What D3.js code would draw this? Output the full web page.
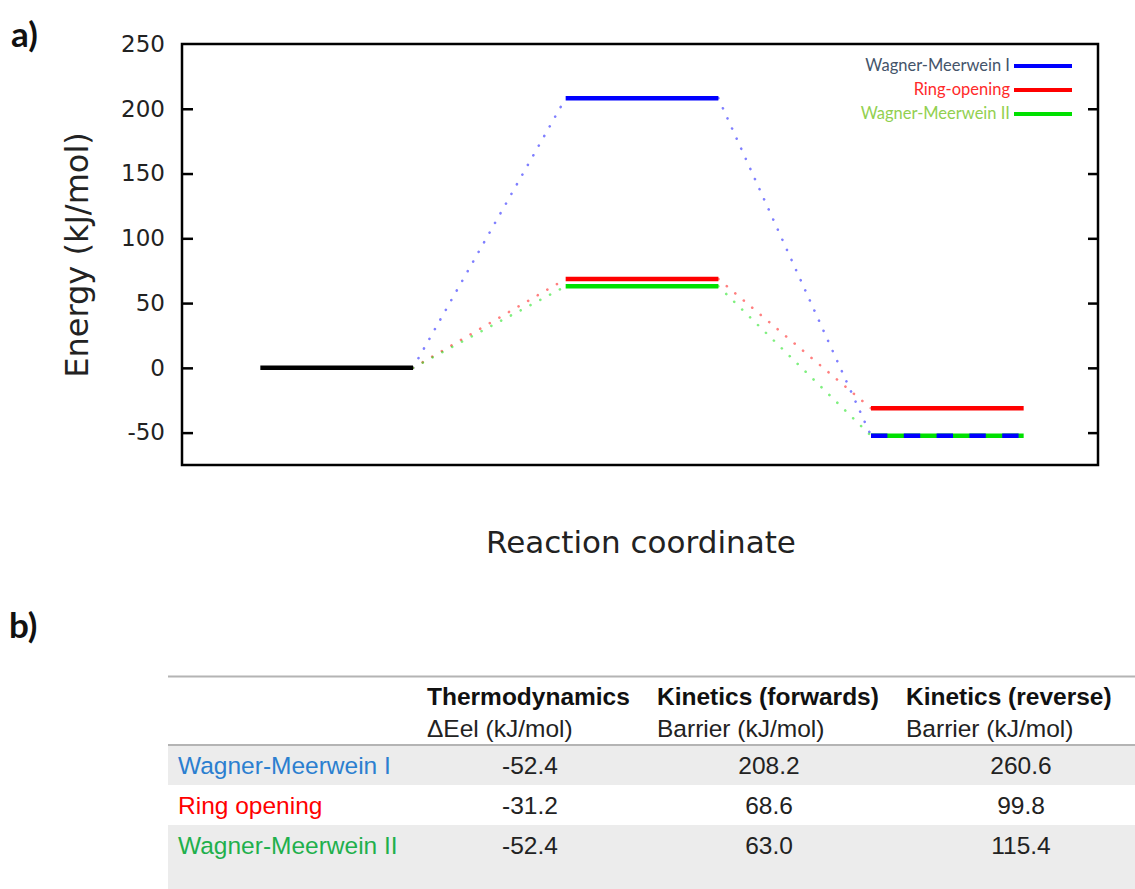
<!DOCTYPE html>
<html>
<head>
<meta charset="utf-8">
<script src="https://cdn.jsdelivr.net/npm/d3@7"></script>
<style>
  body { margin: 0; background: #fff; }
  svg { display: block; }
</style>
</head>
<body>
<svg id="chart" width="1135" height="889"></svg>
<script>
// energy profile data (kJ/mol)
let pathways = ["Wagner-Meerwein I", "Ring-opening", "Wagner-Meerwein II"];
let pathColors = ["#0000ff", "#ff0000", "#00e000"];
let legendColors = ["#44546a", "#ff2a2a", "#92d050"];
let reactantEnergy = 0;
let tsEnergy = [208.2, 68.6, 63.0];
let productEnergy = [-52.4, -31.2, -52.4];
let yTicks = [-50, 0, 50, 100, 150, 200, 250];

// table data
let headers = ["Thermodynamics", "Kinetics (forwards)", "Kinetics (reverse)"];
let subHeaders = ["ΔEel (kJ/mol)", "Barrier (kJ/mol)", "Barrier (kJ/mol)"];
let rowNames = ["Wagner-Meerwein I", "Ring opening", "Wagner-Meerwein II"];
let rowColors = ["#2b7fd0", "#ff0000", "#1fb04c"];
let thermo = ["-52.4", "-31.2", "-52.4"];
let kinForward = ["208.2", "68.6", "63.0"];
let kinReverse = ["260.6", "99.8", "115.4"];

let svg = d3.select("#chart");

let plotL = 182, plotR = 1098, plotT = 44, plotB = 465;

let x = d3.scaleLinear().domain([0, 6]).range([184, 1100]);
let y = d3.scaleLinear().domain([-75, 250]).range([plotB, plotT]);

// stage extents on reaction coordinate
let reactantX = [0.5, 1.5], tsX = [2.5, 3.5], prodX = [4.5, 5.5];

// panel labels
svg.append("text").attr("x", 11).attr("y", 47).text("a)")
  .style("font-family", "Lato").style("font-weight", "bold").style("font-size", "35px").attr("fill", "#111");
svg.append("text").attr("x", 9).attr("y", 638).text("b)")
  .style("font-family", "Lato").style("font-weight", "bold").style("font-size", "35px").attr("fill", "#111");

// dotted connectors
let line = d3.line().x(d => x(d[0])).y(d => y(d[1]));
let connectors = svg.append("g");
pathways.forEach((p, i) => {
  connectors.append("path")
    .attr("d", line([[reactantX[1], reactantEnergy], [tsX[0], tsEnergy[i]]]))
    .attr("fill", "none").attr("stroke", pathColors[i]).attr("stroke-opacity", 0.5)
    .attr("stroke-width", 2.6).attr("stroke-linecap", "round").attr("stroke-dasharray", "0.1 11");
  connectors.append("path")
    .attr("d", line([[tsX[1], tsEnergy[i]], [prodX[0], productEnergy[i]]]))
    .attr("fill", "none").attr("stroke", pathColors[i]).attr("stroke-opacity", 0.5)
    .attr("stroke-width", 2.6).attr("stroke-linecap", "round").attr("stroke-dasharray", "0.1 11");
});

// energy levels
let levels = svg.append("g");
let drawLevel = (xs, e, color, dash) => {
  let l = levels.append("line")
    .attr("x1", x(xs[0])).attr("x2", x(xs[1]))
    .attr("y1", y(e)).attr("y2", y(e))
    .attr("stroke", color).attr("stroke-width", 4.5);
  if (dash) l.attr("stroke-dasharray", dash);
};
pathways.forEach((p, i) => drawLevel(tsX, tsEnergy[i], pathColors[i]));
drawLevel(prodX, productEnergy[1], pathColors[1]);
drawLevel(prodX, productEnergy[2], pathColors[2]);
drawLevel(prodX, productEnergy[0], pathColors[0], "16.4 16.4");
drawLevel(reactantX, reactantEnergy, "#000");

// frame
svg.append("rect").attr("x", plotL).attr("y", plotT)
  .attr("width", plotR - plotL).attr("height", plotB - plotT)
  .attr("fill", "none").attr("stroke", "#000").attr("stroke-width", 2.5);

// y axis (ticks inward), mirrored on the right
let yAxis = svg.append("g").attr("transform", `translate(${plotL},0)`)
  .call(d3.axisLeft(y).tickValues(yTicks).tickSize(-11).tickPadding(17).tickFormat(d => String(d)));
yAxis.select(".domain").remove();
yAxis.selectAll(".tick line").attr("stroke", "#000").attr("stroke-width", 2.5);
yAxis.selectAll(".tick text").style("font-family", "DejaVu Sans").style("font-size", "23px").attr("fill", "#222");
yAxis.selectAll(".tick").filter(d => d === 250).select("line").remove();

let yAxisR = svg.append("g").attr("transform", `translate(${plotR},0)`)
  .call(d3.axisRight(y).tickValues(yTicks).tickSize(-10).tickFormat(""));
yAxisR.select(".domain").remove();
yAxisR.selectAll(".tick line").attr("stroke", "#000").attr("stroke-width", 2.5);
yAxisR.selectAll(".tick").filter(d => d === 250).select("line").remove();

// axis titles
svg.append("text").attr("transform", "translate(88,255) rotate(-90)")
  .attr("text-anchor", "middle").text("Energy (kJ/mol)")
  .style("font-family", "DejaVu Sans").style("font-size", "32px").attr("fill", "#222");
svg.append("text").attr("x", 641).attr("y", 553)
  .attr("text-anchor", "middle").text("Reaction coordinate")
  .style("font-family", "DejaVu Sans").style("font-size", "31px").attr("fill", "#222");

// legend
let legend = svg.append("g");
pathways.forEach((p, i) => {
  let ly = 66 + i * 24;
  legend.append("text").attr("x", 1010).attr("y", ly + 5).attr("text-anchor", "end").text(p)
    .style("font-family", "Lato").style("font-size", "16.5px").attr("fill", legendColors[i]);
  legend.append("line").attr("x1", 1014).attr("x2", 1072).attr("y1", ly).attr("y2", ly)
    .attr("stroke", pathColors[i]).attr("stroke-width", 4);
});

// table
let table = svg.append("g");
let tableLeft = 168, tableRight = 1135;
let rowTop = 745, rowH = 40;
let colCenters = [530, 769, 1021];
let colStarts = [427, 657, 906];

table.append("rect").attr("x", tableLeft).attr("y", rowTop).attr("width", tableRight - tableLeft)
  .attr("height", rowH).attr("fill", "#ececec");
table.append("rect").attr("x", tableLeft).attr("y", rowTop + 2 * rowH).attr("width", tableRight - tableLeft)
  .attr("height", 889 - rowTop - 2 * rowH).attr("fill", "#ececec");

table.append("line").attr("x1", tableLeft).attr("x2", tableRight).attr("y1", 676.5).attr("y2", 676.5)
  .attr("stroke", "#b4b4b4").attr("stroke-width", 2);
table.append("line").attr("x1", tableLeft).attr("x2", tableRight).attr("y1", rowTop).attr("y2", rowTop)
  .attr("stroke", "#b4b4b4").attr("stroke-width", 2);

let font = "Liberation Sans";
headers.forEach((h, i) => {
  table.append("text").attr("x", colStarts[i]).attr("y", 705).text(h)
    .style("font-family", font).style("font-weight", "bold").style("font-size", "24.5px").attr("fill", "#111");
  table.append("text").attr("x", colStarts[i]).attr("y", 737).text(subHeaders[i])
    .style("font-family", font).style("font-size", "24.5px").attr("fill", "#222");
});

let columns = [thermo, kinForward, kinReverse];
rowNames.forEach((r, i) => {
  let by = rowTop + i * rowH + 29;
  table.append("text").attr("x", 178).attr("y", by).text(r)
    .style("font-family", font).style("font-size", "24.5px").attr("fill", rowColors[i]);
  columns.forEach((col, j) => {
    table.append("text").attr("x", colCenters[j]).attr("y", by).attr("text-anchor", "middle").text(col[i])
      .style("font-family", font).style("font-size", "24.5px").attr("fill", "#222");
  });
});
</script>
</body>
</html>
